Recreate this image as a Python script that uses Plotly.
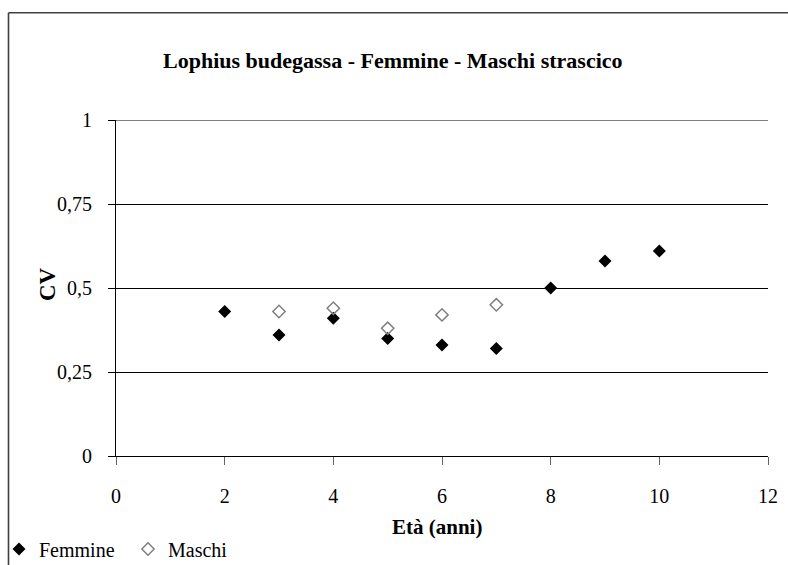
import plotly.graph_objects as go

# Età (anni) and CV values per sex
eta_femmine = [2, 3, 4, 5, 6, 7, 8, 9, 10]
cv_femmine = [0.43, 0.36, 0.41, 0.35, 0.33, 0.32, 0.50, 0.58, 0.61]

eta_maschi = [3, 4, 5, 6, 7]
cv_maschi = [0.43, 0.44, 0.38, 0.42, 0.45]

y_ticks = [0, 0.25, 0.5, 0.75, 1]
y_tick_labels = ["0", "0,25", "0,5", "0,75", "1"]
x_ticks = [0, 2, 4, 6, 8, 10, 12]

SERIF = "Liberation Serif"
TICK_SIZE = 20

fig = go.Figure()
fig.add_trace(go.Scatter(
    x=eta_femmine, y=cv_femmine, mode="markers", name="Femmine",
    marker=dict(symbol="diamond", size=10, color="black",
                line=dict(width=0)),
))
fig.add_trace(go.Scatter(
    x=eta_maschi, y=cv_maschi, mode="markers", name="Maschi",
    marker=dict(symbol="diamond-open", size=9.5, color="#808080",
                line=dict(width=1.5, color="#808080")),
))

# plot area in pixels: x 116..768, y 120..456
L, R, T, B = 116, 20, 120, 109
W, H = 788, 565
pw, ph = W - L - R, H - T - B

def px_x(p):
    return (p - L) / pw

def px_y(p):
    return (H - B - p) / ph

# outer chart frame (left and top edges)
frame = dict(color="#404040", width=1.6)
fig.add_shape(type="line", xref="paper", yref="paper",
              x0=px_x(8.5), x1=px_x(8.5), y0=px_y(570), y1=px_y(12.7), line=frame)
fig.add_shape(type="line", xref="paper", yref="paper",
              x0=px_x(8.5), x1=px_x(795), y0=px_y(12.7), y1=px_y(12.7), line=frame)
# top gridline at CV = 1
fig.add_shape(type="line", xref="paper", yref="y",
              x0=0, x1=1, y0=y_ticks[-1], y1=y_ticks[-1],
              line=dict(color="black", width=1))

# chart title and axis titles
fig.add_annotation(text="<b>Lophius budegassa - Femmine - Maschi strascico</b>",
                   xref="paper", yref="paper", x=px_x(393), y=px_y(61),
                   xanchor="center", yanchor="middle", showarrow=False,
                   font=dict(family=SERIF, size=22, color="black"))
fig.add_annotation(text="<b>Età (anni)</b>",
                   xref="paper", yref="paper", x=px_x(437), y=px_y(527),
                   xanchor="center", yanchor="middle", showarrow=False,
                   font=dict(family=SERIF, size=21, color="black"))
fig.add_annotation(text="<b>CV</b>", textangle=-90,
                   xref="paper", yref="paper", x=px_x(47), y=px_y(284),
                   xanchor="center", yanchor="middle", showarrow=False,
                   font=dict(family=SERIF, size=23, color="black"))

fig.update_layout(
    width=W, height=H,
    margin=dict(l=L, r=R, t=T, b=B, autoexpand=False),
    paper_bgcolor="white", plot_bgcolor="white",
    font=dict(family=SERIF, size=TICK_SIZE, color="black"),
    showlegend=True,
    legend=dict(orientation="h", x=px_x(-1), xanchor="left",
                y=px_y(549), yanchor="middle",
                font=dict(family=SERIF, size=TICK_SIZE, color="black"),
                bgcolor="rgba(0,0,0,0)",
                entrywidth=84, entrywidthmode="pixels",
                tracegroupgap=0),
    xaxis=dict(range=[0, 12], tickvals=x_ticks, showgrid=False,
               automargin=False,
               showline=True, linecolor="black", linewidth=1,
               ticks="outside", ticklen=8, tickcolor="#666666",
               ticklabelstandoff=14,
               tickfont=dict(family=SERIF, size=TICK_SIZE), zeroline=False),
    yaxis=dict(range=[0, 1], tickvals=y_ticks, ticktext=y_tick_labels,
               automargin=False,
               showgrid=True, gridcolor="black", gridwidth=1,
               showline=True, linecolor="black", linewidth=1,
               ticks="outside", ticklen=7, tickcolor="black",
               ticklabelstandoff=12,
               tickfont=dict(family=SERIF, size=TICK_SIZE), zeroline=False),
)

fig.write_html("out.html")
